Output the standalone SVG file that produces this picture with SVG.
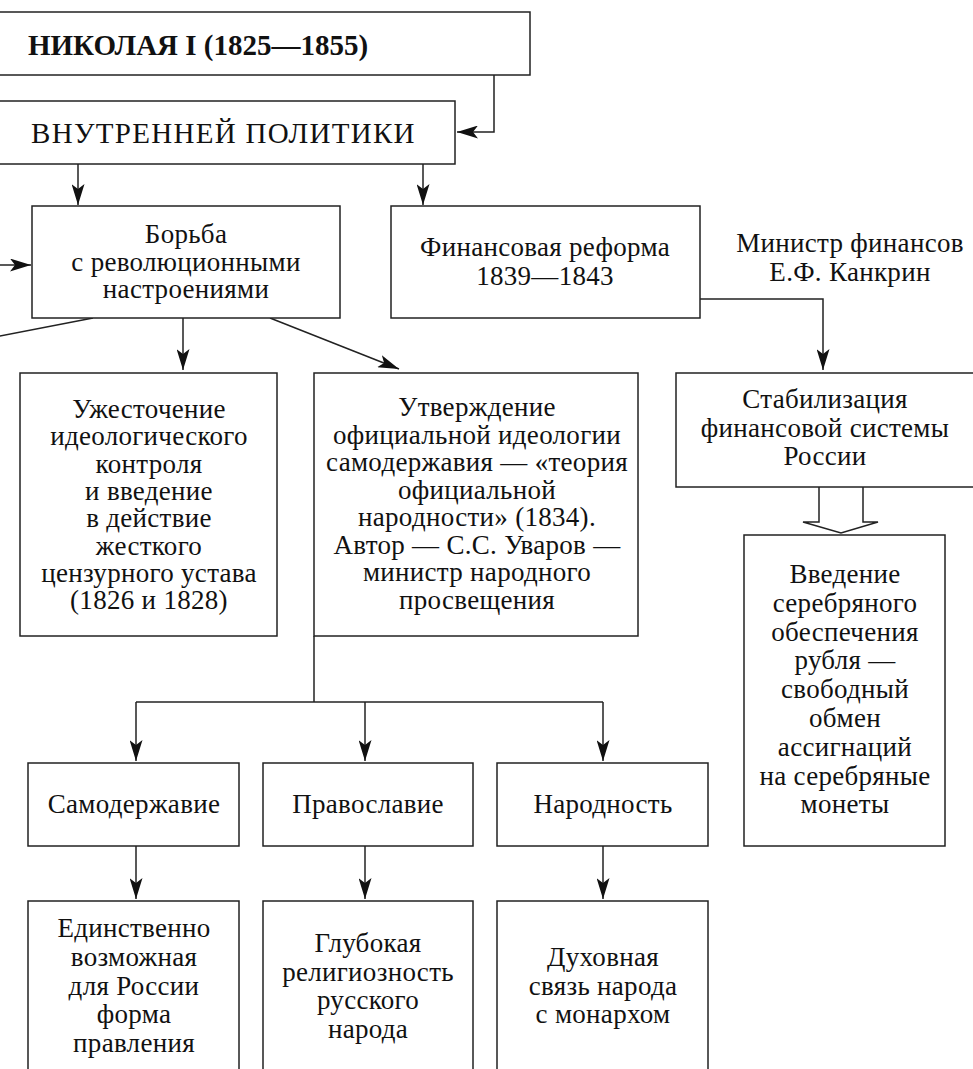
<svg xmlns="http://www.w3.org/2000/svg" width="973" height="1069" viewBox="0 0 973 1069">
<defs>
<marker id="ah" markerUnits="userSpaceOnUse" markerWidth="22" markerHeight="13" refX="21" refY="6.5" orient="auto" viewBox="0 0 22 13">
<path d="M0,0 L21,6.5 L0,13 L5,6.5 Z" fill="#111"/>
</marker>
<style>
.box{fill:#fff;stroke:#222;stroke-width:1.5}
.ln{fill:none;stroke:#222;stroke-width:1.5}
.arr{fill:none;stroke:#222;stroke-width:1.5;marker-end:url(#ah)}
.t{font-family:"Liberation Serif","Times New Roman",serif;font-size:27px;fill:#111;text-anchor:middle;letter-spacing:0.3px}
.big{font-family:"Liberation Serif","Times New Roman",serif;font-size:29px;fill:#111}
</style>
</defs>
<rect width="973" height="1069" fill="#fff"/>

<g id="connectors">
<polyline class="arr" points="494,75 494,132 457,132"/>
<line class="arr" x1="78" y1="164" x2="78" y2="205"/>
<line class="arr" x1="423" y1="164" x2="423" y2="205"/>
<line class="arr" x1="0" y1="265" x2="31" y2="265"/>
<line class="ln" x1="93" y1="318" x2="-5" y2="337"/>
<line class="arr" x1="183" y1="318" x2="183" y2="370"/>
<line class="arr" x1="270" y1="318" x2="399" y2="369"/>
<polyline class="arr" points="700,299 823,299 823,370"/>
<path class="box" d="M819,487 L819,522 L803,522 L841,533 L878,522 L863,522 L863,487"/>
<line class="ln" x1="314" y1="636" x2="314" y2="702"/>
<line class="ln" x1="136" y1="702" x2="603" y2="702"/>
<line class="arr" x1="136" y1="702" x2="136" y2="761"/>
<line class="arr" x1="365" y1="702" x2="365" y2="761"/>
<line class="arr" x1="603" y1="702" x2="603" y2="761"/>
<line class="arr" x1="136" y1="846" x2="136" y2="899"/>
<line class="arr" x1="365" y1="846" x2="365" y2="899"/>
<line class="arr" x1="603" y1="846" x2="603" y2="899"/>
</g>

<g id="title">
<rect class="box" x="-10" y="12" width="540" height="63"/>
<text class="big" x="28" y="55" font-weight="bold">НИКОЛАЯ I (1825—1855)</text>
</g>

<g id="domestic">
<rect class="box" x="-10" y="101" width="465" height="63"/>
<text class="big" x="31" y="143" letter-spacing="1.3">ВНУТРЕННЕЙ ПОЛИТИКИ</text>
</g>

<g id="struggle">
<rect class="box" x="32" y="206" width="308" height="112"/>
<text class="t"><tspan x="186" y="243">Борьба</tspan><tspan x="186" y="271">с революционными</tspan><tspan x="186" y="298">настроениями</tspan></text>
</g>

<g id="finreform">
<rect class="box" x="391" y="206" width="309" height="112"/>
<text class="t"><tspan x="545" y="256">Финансовая реформа</tspan><tspan x="545" y="285">1839—1843</tspan></text>
</g>

<g id="minister">
<text class="t"><tspan x="850" y="252">Министр финансов</tspan><tspan x="850" y="281">Е.Ф. Канкрин</tspan></text>
</g>

<g id="control">
<rect class="box" x="20" y="373" width="257" height="263"/>
<text class="t"><tspan x="149" y="418">Ужесточение</tspan><tspan x="149" y="445.3">идеологического</tspan><tspan x="149" y="472.6">контроля</tspan><tspan x="149" y="499.9">и введение</tspan><tspan x="149" y="527.2">в действие</tspan><tspan x="149" y="554.5">жесткого</tspan><tspan x="149" y="581.8">цензурного устава</tspan><tspan x="149" y="609.1">(1826 и 1828)</tspan></text>
</g>

<g id="ideology">
<rect class="box" x="314" y="373" width="324" height="263"/>
<text class="t"><tspan x="477" y="416">Утверждение</tspan><tspan x="477" y="443.5">официальной идеологии</tspan><tspan x="477" y="471">самодержавия — «теория</tspan><tspan x="477" y="498.5">официальной</tspan><tspan x="477" y="526">народности» (1834).</tspan><tspan x="477" y="553.5">Автор — С.С. Уваров —</tspan><tspan x="477" y="581">министр народного</tspan><tspan x="477" y="608.5">просвещения</tspan></text>
</g>

<g id="stabilization">
<rect class="box" x="676" y="373" width="320" height="114"/>
<text class="t"><tspan x="825" y="408">Стабилизация</tspan><tspan x="825" y="437">финансовой системы</tspan><tspan x="825" y="465">России</tspan></text>
</g>

<g id="silver">
<rect class="box" x="744" y="535" width="201" height="311"/>
<text class="t"><tspan x="845" y="583">Введение</tspan><tspan x="845" y="611.8">серебряного</tspan><tspan x="845" y="640.6">обеспечения</tspan><tspan x="845" y="669.4">рубля —</tspan><tspan x="845" y="698.2">свободный</tspan><tspan x="845" y="727">обмен</tspan><tspan x="845" y="755.8">ассигнаций</tspan><tspan x="845" y="784.6">на серебряные</tspan><tspan x="845" y="813.4">монеты</tspan></text>
</g>

<g id="autocracy">
<rect class="box" x="28" y="763" width="211" height="83"/>
<text class="t" x="134" y="813">Самодержавие</text>
</g>
<g id="orthodoxy">
<rect class="box" x="263" y="763" width="210" height="83"/>
<text class="t" x="368" y="813">Православие</text>
</g>
<g id="nationality">
<rect class="box" x="497" y="763" width="211" height="83"/>
<text class="t" x="603" y="813">Народность</text>
</g>

<g id="autocracy-desc">
<rect class="box" x="28" y="901" width="211" height="190"/>
<text class="t"><tspan x="134" y="937">Единственно</tspan><tspan x="134" y="966">возможная</tspan><tspan x="134" y="995">для России</tspan><tspan x="134" y="1023">форма</tspan><tspan x="134" y="1052">правления</tspan></text>
</g>
<g id="orthodoxy-desc">
<rect class="box" x="263" y="901" width="210" height="190"/>
<text class="t"><tspan x="368" y="952">Глубокая</tspan><tspan x="368" y="981">религиозность</tspan><tspan x="368" y="1009">русского</tspan><tspan x="368" y="1038">народа</tspan></text>
</g>
<g id="nationality-desc">
<rect class="box" x="497" y="901" width="211" height="190"/>
<text class="t"><tspan x="603" y="966">Духовная</tspan><tspan x="603" y="995">связь народа</tspan><tspan x="603" y="1023">с монархом</tspan></text>
</g>
</svg>
